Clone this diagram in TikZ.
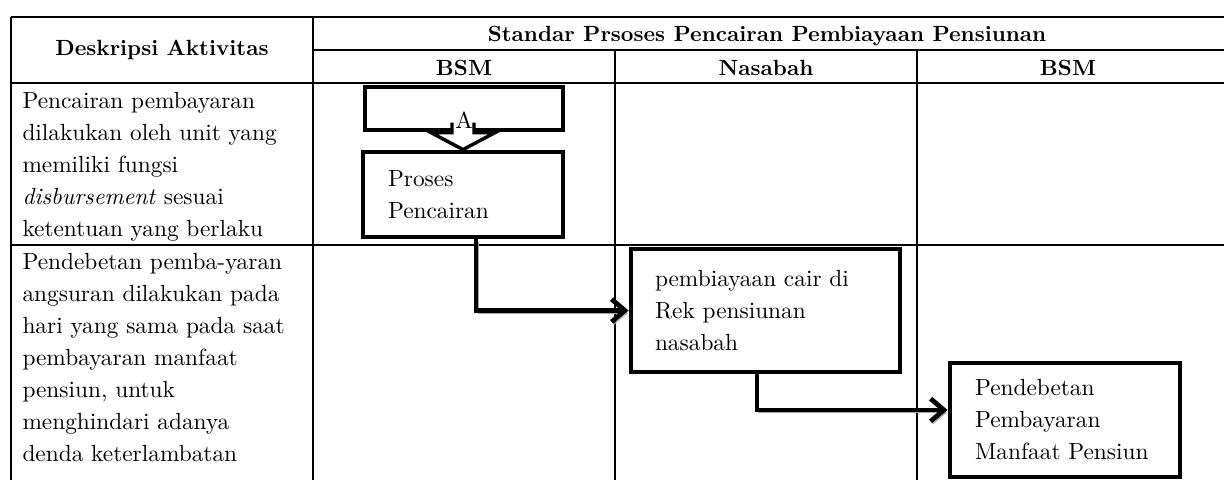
\documentclass[tikz,border=0pt]{standalone}
\usepackage{fontspec}
\setmainfont{lmroman10}[Extension=.otf, UprightFont=*-regular, BoldFont=*-bold, ItalicFont=*-italic, BoldItalicFont=*-bolditalic]
\usetikzlibrary{arrows.meta,calc}

\tikzset{every picture/.style={line width=0.75pt}}
\tikzset{
  grid line/.style={line width=1.5pt},
  body text/.style={font=\fontsize{17.5}{24}\selectfont, inner sep=0pt, align=left},
  head text/.style={font=\fontsize{16.5}{20}\selectfont\bfseries, inner sep=0pt},
  flow box/.style={draw, line width=3.6pt, fill=white, align=left, inner ysep=0pt,
    font=\fontsize{17.5}{24}\selectfont},
  flow arrow/.style={line width=3.6pt, -{Straight Barb[length=10pt,width=17pt]},
    preaction={draw=black!35, transform canvas={shift={(1.5pt,-2pt)}}}}
}

\begin{document}
\begin{tikzpicture}[x=0.75pt,y=0.75pt,yscale=-1,xscale=1]
	\useasboundingbox (0,0) rectangle (1224,480);
	
	%Table: horizontal lines
	\draw [grid line]    (11,17) -- (1224,17) ;
	\draw [grid line]    (313,50) -- (1224,50) ;
	\draw [grid line]    (11,83) -- (1224,83) ;
	\draw [grid line]    (11,245) -- (1224,245) ;
	%Table: vertical lines
	\draw [grid line]    (11,17) -- (11,480) ;
	\draw [grid line]    (313,17) -- (313,480) ;
	\draw [grid line]    (615,50) -- (615,480) ;
	\draw [grid line]    (917,50) -- (917,480) ;
	
	%Header texts
	\node [head text] (hdDesk) at (162,50) {Deskripsi Aktivitas};
	\node [head text] (hdStd) at (767,36) {Standar Prsoses Pencairan Pembiayaan Pensiunan};
	\node [head text] (hdBsmA) at (464,68) {BSM};
	\node [head text] (hdNsb) at (766,68) {Nasabah};
	\node [head text] (hdBsmB) at (1068,68) {BSM};
	
	%Activity descriptions
	\node [body text, anchor=north west] (descA) at (22,92) {Pencairan pembayaran\\dilakukan oleh unit yang\\memiliki fungsi\\\textit{disbursement} sesuai\\ketentuan yang berlaku};
	\node [body text, anchor=north west] (descB) at (22,253) {Pendebetan pemba-yaran\\angsuran dilakukan pada\\hari yang sama pada saat\\pembayaran manfaat\\pensiun, untuk\\menghindari adanya\\denda keterlambatan};
	
	%Shape: Rectangle (connector A)
	\node [flow box, minimum width=148.5pt, minimum height=32.25pt] (boxA) at (464,108.5) {};
	%Shape: Rectangle
	\node [flow box, text width=112.5pt, inner xsep=18.75pt, minimum height=63.75pt] (pro) at (463,194.5) {Proses\\Pencairan};
	%Shape: Rectangle
	\node [flow box, text width=165.75pt, inner xsep=18pt, minimum height=92.25pt] (pem) at (765.5,310.5) {pembiayaan cair di\\Rek pensiunan\\nasabah};
	%Shape: Rectangle
	\node [flow box, text width=135pt, inner xsep=18.75pt, minimum height=85.5pt] (pend) at (1065,420) {Pendebetan\\Pembayaran\\Manfaat Pensiun};
	
	%Block Arrow
	\draw [line width=2.6pt, fill=white] ($(pro.north)+(-11,-27)$) -- ++(0,10) -- ++(-21,0) -- (pro.north) -- ++(32,-17) -- ++(-21,0) -- ++(0,-10) ;
	\node [body text, anchor=base] (lblA) at ($(boxA.south)+(0,-4)$) {A};
	
	%Connectors
	\draw [flow arrow] ([xshift=9.75pt]pro.south) |- (pem.west) ;
	\draw [flow arrow] ([xshift=-6.4pt]pem.south) |- ([yshift=-7.5pt]pend.west) ;
	
\end{tikzpicture}
\end{document}
